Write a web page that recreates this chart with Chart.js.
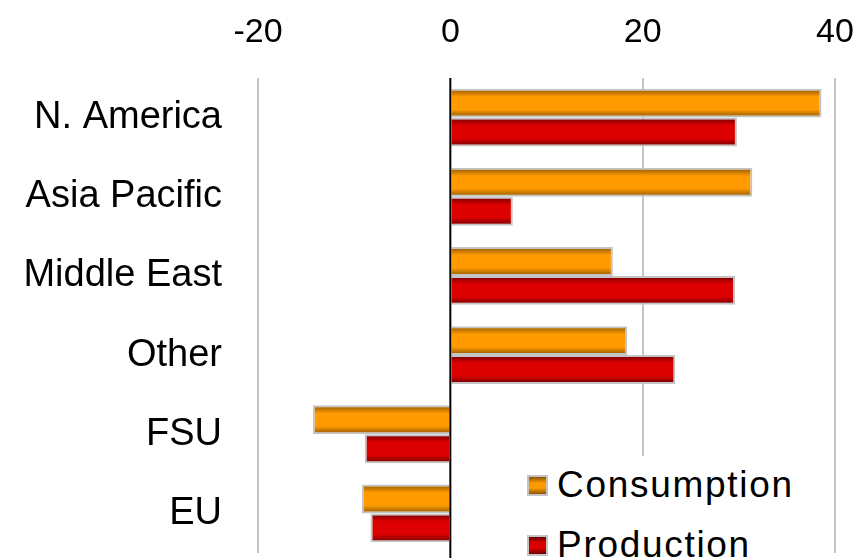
<!DOCTYPE html>
<html>
<head>
<meta charset="utf-8">
<script src="https://cdn.jsdelivr.net/npm/chart.js@4"></script>
<style>
  body { margin: 0; background: #fff; }
  #wrap { position: relative; width: 861px; height: 558px; overflow: hidden; }
  #legend {
    position: absolute; left: 515px; top: 456px; width: 300px; height: 110px;
    background: #fff; font-family: "Liberation Sans", Arial, sans-serif; font-size: 37px; color: #000;
    letter-spacing: 1.7px;
  }
  .item { position: absolute; left: 0; height: 40px; line-height: 40px; white-space: nowrap; }
  .box { position: absolute; left: 12px; top: 10px; width: 17px; height: 17px; border: 2px solid #c4c4c4; }
  .item span { position: absolute; left: 42px; top: 0; }
</style>
</head>
<body>
<div id="wrap">
  <canvas id="chart" width="861" height="558"></canvas>
  <div id="legend">
    <div class="item" style="top:9px"><div class="box" style="background:linear-gradient(#8a5500,#ff9a00 35%,#ff9a00 65%,#8a5500)"></div><span>Consumption</span></div>
    <div class="item" style="top:69px"><div class="box" style="background:linear-gradient(#6e0000,#dd0000 35%,#dd0000 65%,#6e0000)"></div><span>Production</span></div>
  </div>
</div>
<script>
const categories = ['N. America', 'Asia Pacific', 'Middle East', 'Other', 'FSU', 'EU'];
const consumption = [38.6, 31.4, 16.9, 18.4, -14.3, -9.2];
const production = [29.8, 6.5, 29.6, 23.4, -8.9, -8.3];
const xTicks = [-20, 0, 20, 40];

const catPct = 0.73;

// vertical shading inside each bar (dark edges, bright middle)
function barFill(ctx, dark, mid) {
    const chart = ctx.chart;
    const y = chart.scales.y;
    if (!y || ctx.type !== 'data') return mid;
    const size = (y.height / categories.length) * catPct / 2;
    const c = y.getPixelForValue(ctx.dataIndex);
    const top = c - size + ctx.datasetIndex * size;
    if (!isFinite(top) || !isFinite(size) || size <= 0) return mid;
    const g = chart.ctx.createLinearGradient(0, top, 0, top + size);
    g.addColorStop(0, dark);
    g.addColorStop(0.28, mid);
    g.addColorStop(0.72, mid);
    g.addColorStop(1, dark);
    return g;
}

// zero line on top of the bars
const zeroLine = {
    id: 'zeroLine',
    afterDatasetsDraw(chart) {
        const x = chart.scales.x.getPixelForValue(0);
        const c = chart.ctx;
        c.save();
        c.strokeStyle = '#000';
        c.lineWidth = 2;
        c.beginPath();
        c.moveTo(x, chart.chartArea.top);
        c.lineTo(x, chart.height);
        c.stroke();
        c.restore();
    }
};

// keep label overhang from shrinking the plot
function noPad(s) {
    s.paddingLeft = 0;
    s.paddingRight = 0;
    s.paddingTop = 0;
    s.paddingBottom = 0;
}

new Chart(document.getElementById('chart'), {
    type: 'bar',
    data: {
        labels: categories,
        datasets: [
            {
                label: 'Consumption',
                data: consumption,
                backgroundColor: (ctx) => barFill(ctx, '#8a5500', '#ff9a00'),
                borderColor: '#c4c4c4',
                borderWidth: 2
            },
            {
                label: 'Production',
                data: production,
                backgroundColor: (ctx) => barFill(ctx, '#6e0000', '#dd0000'),
                borderColor: '#c4c4c4',
                borderWidth: 2
            }
        ]
    },
    options: {
        indexAxis: 'y',
        responsive: false,
        animation: false,
        categoryPercentage: catPct,
        barPercentage: 1,
        layout: { padding: { left: 0, right: 26, top: 0, bottom: 5 } },
        plugins: {
            legend: { display: false },
            tooltip: { enabled: false }
        },
        scales: {
            x: {
                position: 'top',
                min: -20,
                max: 40,
                afterBuildTicks: (s) => { s.ticks = xTicks.map(v => ({ value: v })); },
                afterFit: (s) => { s.height = 78; noPad(s); },
                border: { display: false },
                grid: {
                    drawTicks: false,
                    lineWidth: 2,
                    color: (ctx) => ctx.tick && ctx.tick.value === 0 ? 'rgba(0,0,0,0)' : '#c4c4c4'
                },
                ticks: {
                    padding: 25,
                    color: '#000',
                    font: { family: '"Liberation Sans", Arial, sans-serif', size: 34 }
                }
            },
            y: {
                afterFit: (s) => { s.width = 258; noPad(s); },
                border: { display: false },
                grid: { display: false, drawTicks: false },
                ticks: {
                    padding: 36,
                    color: '#000',
                    font: { family: '"Liberation Sans", Arial, sans-serif', size: 38 }
                }
            }
        }
    },
    plugins: [zeroLine]
});
</script>
</body>
</html>
